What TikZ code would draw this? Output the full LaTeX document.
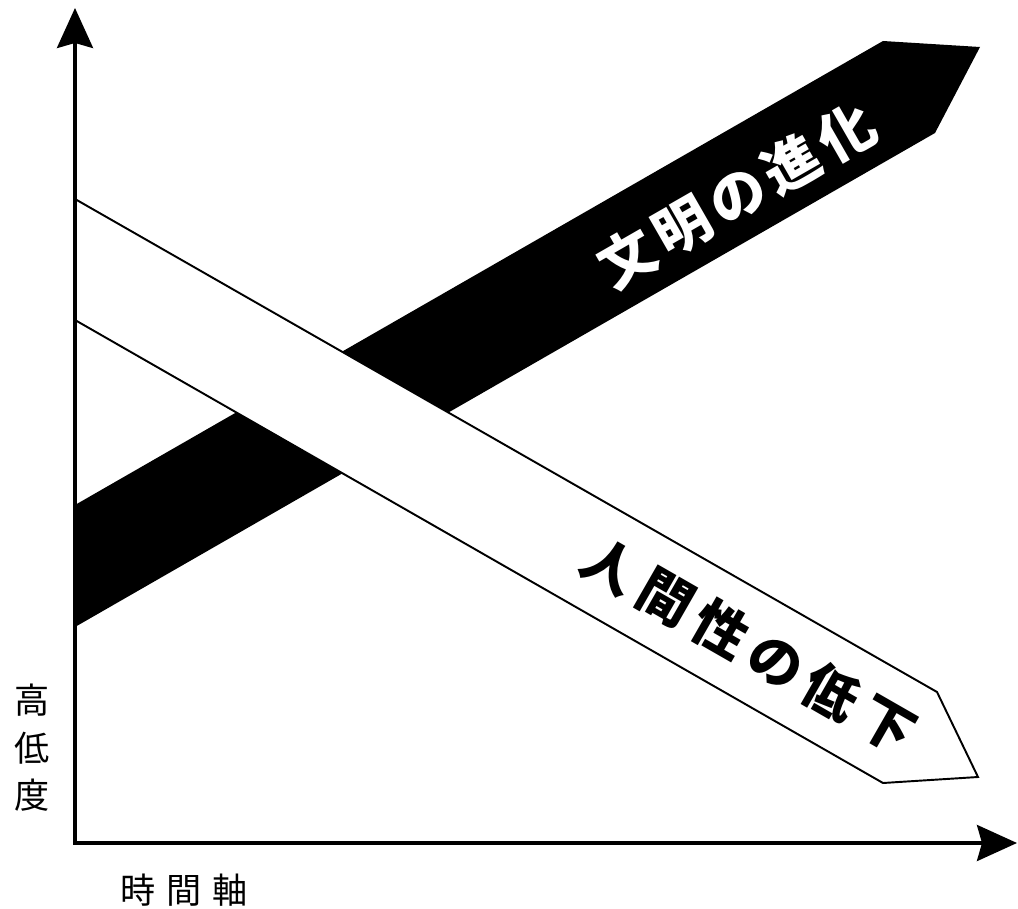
\documentclass[tikz,border=0pt]{standalone}
\usepackage{fontspec}
\newfontfamily\jpfont{Noto Sans CJK JP}
\newfontfamily\jpspaced{Noto Sans CJK JP}[LetterSpace=30]
\newfontfamily\bandfont{Noto Sans CJK JP}[LetterSpace=12]
\newfontfamily\bandfontb{Noto Sans CJK JP}[LetterSpace=17]
\usetikzlibrary{arrows.meta,positioning}

\tikzset{
  axis/.style={line width=2pt, {Stealth[length=0.8cm, width=0.72cm, inset=0.1cm]}-{Stealth[length=0.8cm, width=0.72cm, inset=0.1cm]}},
  upband/.style={fill=black},
  downband/.style={draw=black, fill=white, line width=1.1pt, line join=miter},
  axislabel/.style={font=\fontsize{20}{27}\selectfont\jpfont, align=center, inner sep=0pt}
}

\begin{document}
\begin{tikzpicture}[x=0.02cm, y=-0.02cm]
  \useasboundingbox (0,0) rectangle (1018,909);

  % Bands
  \fill[upband] (75,505) -- (883,41) -- (980,47) -- (935,133) -- (75,627) -- cycle;
  \draw[downband] (75,199) -- (937,692) -- (978,777) -- (883,783) -- (75,320);

  % Axes
  \coordinate (origin) at (75,843);
  \coordinate (ytop) at (75,8);
  \coordinate (xend) at (1017,843);
  \draw[axis] (ytop) -- (origin) -- (xend);

  % Labels
  \node[rotate=29.86, text=white, font=\fontsize{32}{32}\selectfont\bandfont\bfseries] (civil) at (737,195) {文明の進化};
  \node[rotate=-29.86, font=\fontsize{31}{31}\selectfont\bandfontb\bfseries] (human) at (749,645) {人間性の低下};
  \node[axislabel] (ylabel) at (32,748) {高\\低\\度};
  \node[axislabel, font=\fontsize{20}{27}\selectfont\jpspaced] (xlabel) at (184,890) {時間軸};

\end{tikzpicture}
\end{document}
